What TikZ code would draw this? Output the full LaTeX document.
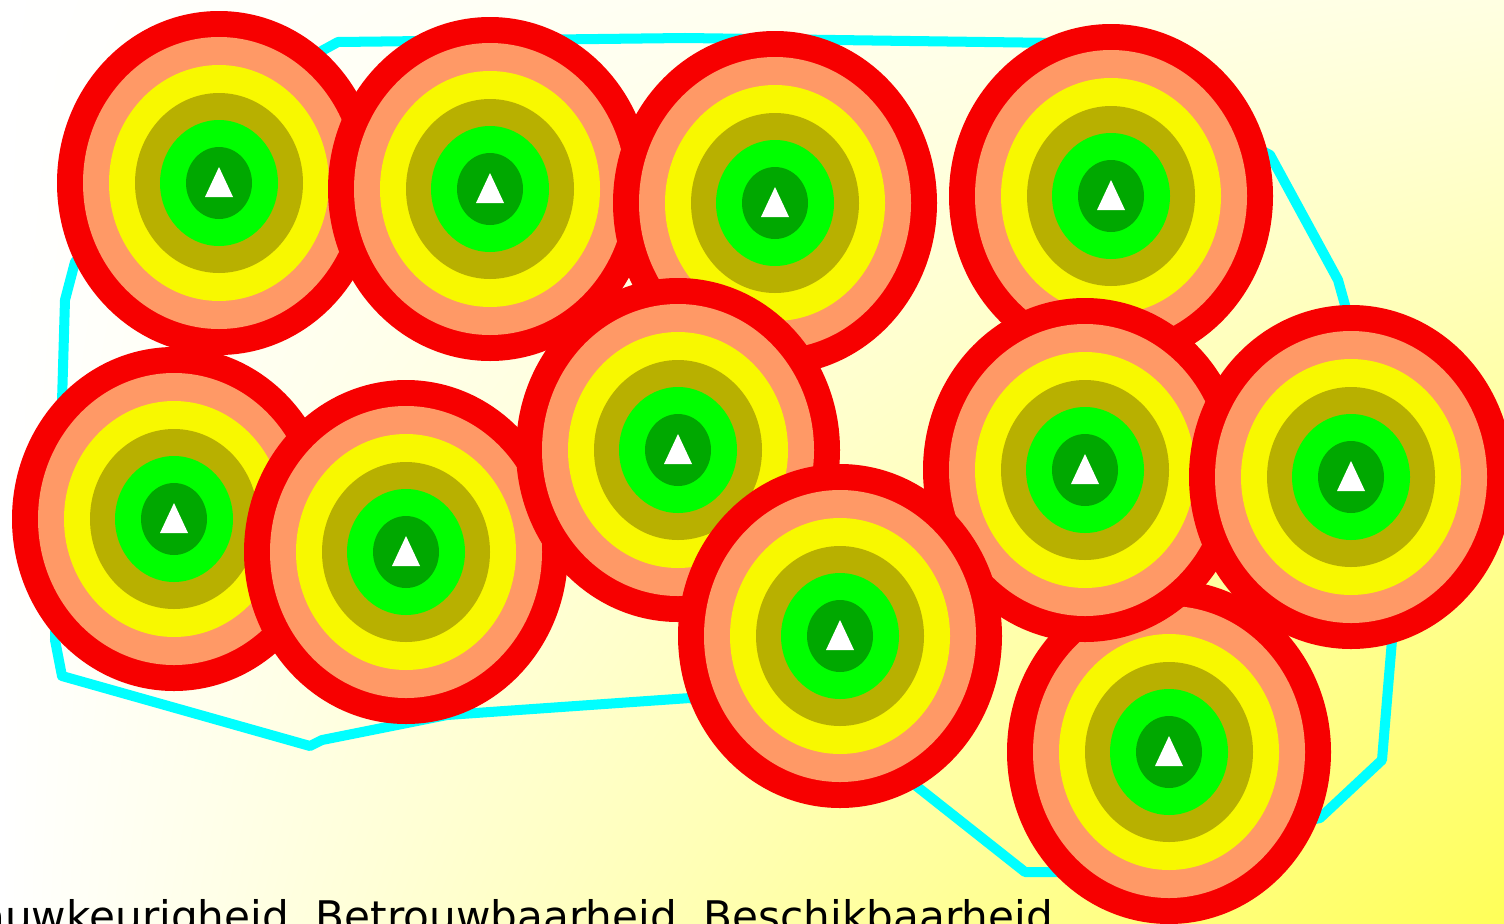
\documentclass[tikz,border=0pt]{standalone}
\usepackage{fontspec}
\setsansfont{DejaVu Sans}
\usepackage{tikz}
\usetikzlibrary{calc,shadings}
\usepackage{xcolor}
\definecolor{ringred}{RGB}{247,0,0}
\definecolor{ringorange}{RGB}{255,153,102}
\definecolor{ringyellow}{RGB}{248,248,0}
\definecolor{ringolive}{RGB}{184,176,0}
\definecolor{ringgreen}{RGB}{0,255,0}
\definecolor{ringdark}{RGB}{0,168,0}
\definecolor{bordercyan}{RGB}{0,255,255}
\definecolor{bgpale}{RGB}{255,255,226}
\definecolor{bgyellow}{RGB}{255,255,88}

\begin{document}
\begin{tikzpicture}[x=0.02cm, y=-0.02cm]
      \useasboundingbox (0,0) rectangle (1504,923);
      \clip (0,0) rectangle (1504,923);
      \shade[upper left=white, lower left=white, upper right=bgpale, lower right=bgyellow]
        (0,0) rectangle (1504,923);
      % area boundary
      \draw[bordercyan, line width=5.7pt, line join=round]
        (62,676) -- (310,746) -- (322,740) -- (447,715) -- (690,698) -- (915,785)
        -- (1025,872) -- (1060,872) -- (1320,818) -- (1382,760) -- (1392,640)
        -- (1345,305) -- (1338,280) -- (1270,155) -- (1060,43) -- (685,38)
        -- (338,42) -- (250,90) -- (75,262) -- (65,300) -- (55,640) -- cycle;
      % targets
      \foreach \cx/\cy in {219/183, 490/189, 775/203, 1111/196, 174/519, 406/552,
                           678/450, 1169/752, 1085/470, 1351/477, 840/636} {
        \foreach \rx/\ry/\col in {162/172/ringred, 136/146/ringorange, 110/118/ringyellow,
                                  84/90/ringolive, 59/63/ringgreen, 33/36/ringdark} {
          \fill[\col] (\cx,\cy) ellipse [x radius=\rx, y radius=\ry];
        }
        \fill[white, shift={(\cx,\cy)}] (0,-16) -- (-14,14) -- (14,14) -- cycle;
      }
      \node[anchor=base east, inner sep=0pt, font=\sffamily\fontsize{24}{29}\selectfont]
        (caption) at (1053,931) {Nauwkeurigheid, Betrouwbaarheid, Beschikbaarheid};
    \end{tikzpicture}
\end{document}
